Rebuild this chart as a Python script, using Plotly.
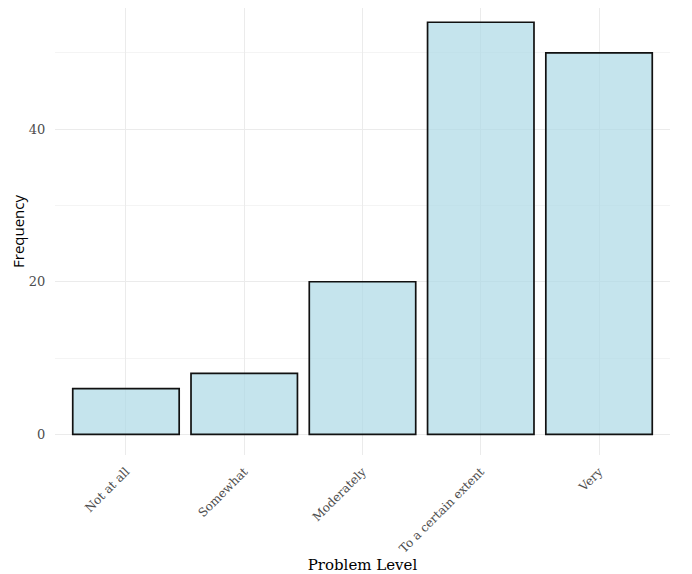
import plotly.graph_objects as go

categories = ["Not at all", "Somewhat", "Moderately", "To a certain extent", "Very"]
frequency = [6, 8, 20, 54, 50]
y_ticks = [0, 20, 40]

fig = go.Figure()
fig.add_trace(go.Bar(
    x=categories, y=frequency, width=0.9,
    marker=dict(color="rgba(173,216,230,0.7)", line=dict(color="#111111", width=1.7)),
))

serif = "DejaVu Serif, serif"
# page has an 8px body margin, so the figure is sized/offset to compensate
fig.update_layout(
    width=684, height=566,
    margin=dict(l=47, r=22, t=0, b=119),
    plot_bgcolor="white", paper_bgcolor="white",
    showlegend=False,
    font=dict(family=serif, color="#4D4D4D", size=12),
    xaxis=dict(
        range=[-0.6, 4.6], showgrid=True, gridcolor="#EBEBEB", gridwidth=1,
        tickangle=-45, ticks="outside", ticklen=4, tickcolor="rgba(0,0,0,0)",
        tickfont=dict(family=serif, size=12, color="#4D4D4D"),
        title=dict(text="Problem Level", font=dict(family=serif, size=15, color="#000000"), standoff=6),
        zeroline=False, showline=False, automargin=False,
    ),
    yaxis=dict(
        range=[-2.7, 55.87], tickvals=y_ticks, showgrid=True, gridcolor="#EBEBEB", gridwidth=1,
        minor=dict(tickvals=[10, 30, 50], showgrid=True, gridcolor="#F4F4F4", gridwidth=0.6),
        ticks="outside", ticklen=6, tickcolor="rgba(0,0,0,0)",
        tickfont=dict(family=serif, size=13, color="#4D4D4D"),
        title=dict(text="Frequency", font=dict(family="Open Sans, sans-serif", size=15, color="#000000"), standoff=1),
        zeroline=False, showline=False, automargin=False,
    ),
)

fig.write_html("out.html")
